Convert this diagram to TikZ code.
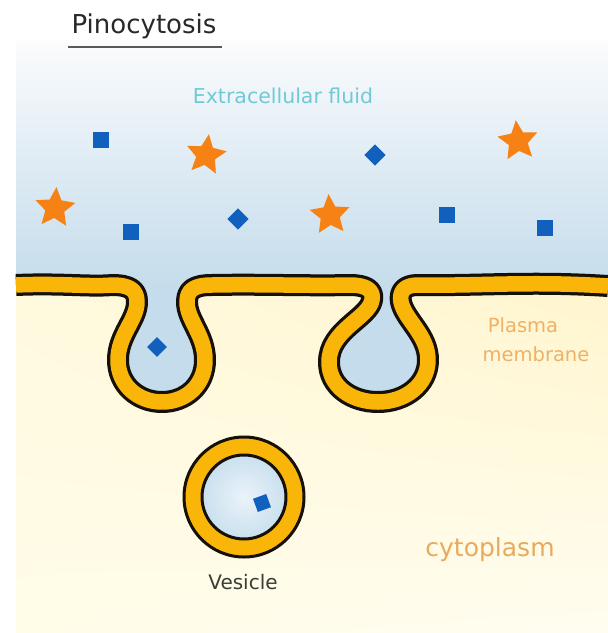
\documentclass[tikz,border=0pt]{standalone}
\usepackage{fontspec}
\setmainfont{DejaVu Sans}
\usetikzlibrary{shapes.geometric,shadings}

\definecolor{skytop}{RGB}{251,252,253}
\definecolor{skymid}{RGB}{226,237,245}
\definecolor{skybottom}{RGB}{196,220,235}
\definecolor{cytUL}{RGB}{255,249,222}
\definecolor{cytUR}{RGB}{255,245,205}
\definecolor{cytLL}{RGB}{255,252,232}
\definecolor{cytLR}{RGB}{255,253,240}
\definecolor{lipid}{RGB}{250,182,8}
\definecolor{lipidedge}{RGB}{22,16,10}
\definecolor{molblue}{RGB}{18,96,190}
\definecolor{molorange}{RGB}{246,130,22}
\definecolor{fluidtext}{RGB}{112,202,214}
\definecolor{membtext}{RGB}{240,176,102}
\definecolor{cyttext}{RGB}{234,170,92}
\definecolor{titletext}{RGB}{40,40,40}
\definecolor{vestext}{RGB}{58,62,56}
\definecolor{vescore}{RGB}{234,243,250}
\definecolor{vesrim}{RGB}{202,224,238}

% centre line of the plasma membrane, left to right
\def\membrane{(16,285) .. controls (60,283) and (90,287) .. (112,285)
 .. controls (130,285) and (137,290) .. (137,302)
 .. controls (137,320) and (118,335) .. (118,360)
 .. controls (118,385) and (138,402) .. (162,402)
 .. controls (186,402) and (205,385) .. (205,360)
 .. controls (205,335) and (187,320) .. (187,302)
 .. controls (187,290) and (194,285) .. (212,285)
 .. controls (260,284) and (310,286) .. (350,285)
 .. controls (366,285) and (374,290) .. (372,300)
 .. controls (369,318) and (329,330) .. (329,362)
 .. controls (329,387) and (352,402) .. (378,402)
 .. controls (405,402) and (428,385) .. (428,360)
 .. controls (428,335) and (405,320) .. (401,302)
 .. controls (399,291) and (405,285) .. (418,285)
 .. controls (480,286) and (530,281) .. (608,286)}

\tikzset{
  sq/.style={fill=molblue, minimum size=16pt, inner sep=0pt, outer sep=0pt},
  diam/.style={fill=molblue, minimum size=15pt, inner sep=0pt, outer sep=0pt, rotate=45},
  starmol/.style={star, star points=5, star point ratio=2.1, fill=molorange,
    minimum size=42pt, inner sep=0pt, outer sep=0pt},
  lbl/.style={inner sep=0pt, anchor=base},
}

\begin{document}
\begin{tikzpicture}[x=1pt, y=-1pt, line join=round]
\useasboundingbox (0,0) rectangle (608,633);

% extracellular fluid
\shade[top color=skytop, bottom color=skymid] (16,40) rectangle (608,150);
\shade[top color=skymid, bottom color=skybottom] (16,149.5) rectangle (608,290);
\fill[skybottom] (16,289) rectangle (608,420);

% cytoplasm
\shade[upper left=cytUL, upper right=cytUR, lower left=cytLL, lower right=cytLR]
  (16,633) -- \membrane -- (608,633) -- cycle;

% membrane bilayer
\draw[lipidedge, line width=22pt] \membrane;
\draw[lipid, line width=15.5pt] \membrane;

% vesicle
\draw[lipidedge, line width=3pt, fill=lipid] (244,497) circle[radius=60pt];
\shade[inner color=vescore, outer color=vesrim] (244,497) circle[radius=42pt];
\draw[lipidedge, line width=3pt] (244,497) circle[radius=42pt];

% solutes
\node[sq] (s1) at (101,140) {};
\node[starmol, rotate=-8] (t1) at (206,155) {};
\node[diam] (d1) at (375,155) {};
\node[starmol, rotate=6] (t2) at (518,141) {};
\node[starmol, rotate=-4] (t3) at (55,208) {};
\node[sq] (s2) at (131,232) {};
\node[diam] (d2) at (238,219) {};
\node[starmol, rotate=4] (t4) at (330,215) {};
\node[sq] (s3) at (447,215) {};
\node[sq] (s4) at (545,228) {};
\node[diam, minimum size=14pt] (d3) at (157,347) {};
\node[sq, minimum size=14pt, rotate=20] (s5) at (262,503) {};

% labels
\node[lbl, text=titletext, font=\fontsize{26}{30}\selectfont] (title) at (144,33) {Pinocytosis};
\draw[gray!70!black, line width=1.3pt] (68,47) -- (222,47);
\node[lbl, text=fluidtext, font=\fontsize{20.5}{24}\selectfont] (fluid) at (283,103) {Extracellular fluid};
\node[lbl, text=membtext, font=\fontsize{19.5}{24}\selectfont] (plasma) at (523,332) {Plasma};
\node[lbl, text=membtext, font=\fontsize{19.5}{24}\selectfont] (memb) at (536,361) {membrane};
\node[lbl, text=cyttext, font=\fontsize{25}{30}\selectfont] (cyto) at (490,556) {cytoplasm};
\node[lbl, text=vestext, font=\fontsize{20}{24}\selectfont] (ves) at (243,589) {Vesicle};
\end{tikzpicture}
\end{document}
